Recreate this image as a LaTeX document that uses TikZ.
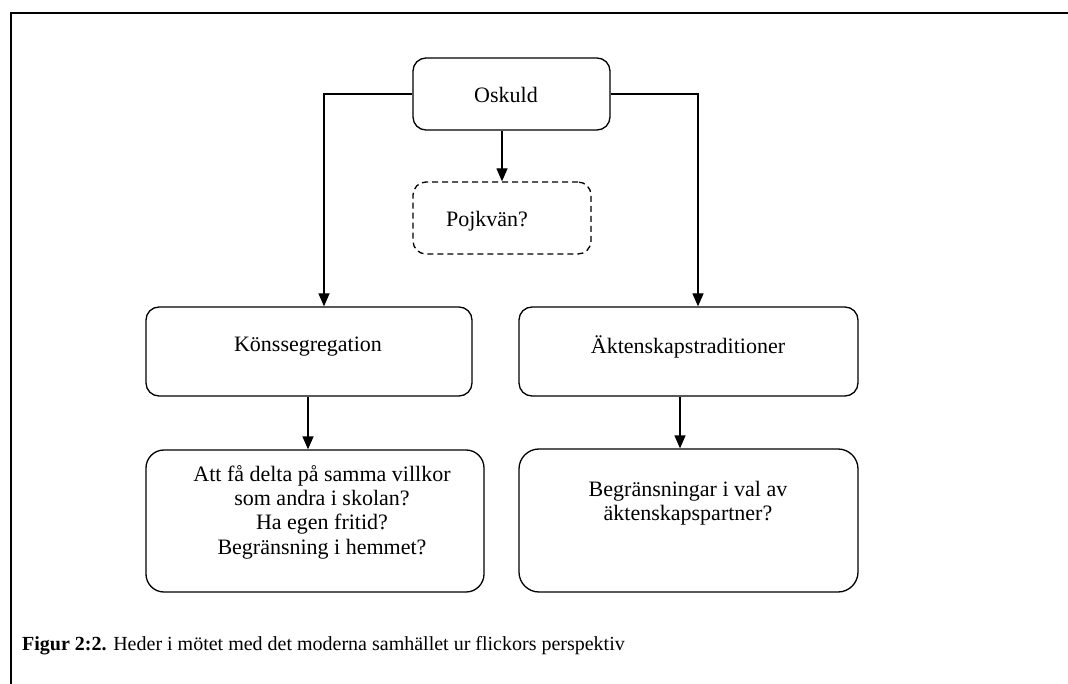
\documentclass[tikz,border=0pt]{standalone}
\usepackage{fontspec}
\setmainfont{Liberation Serif}
\usetikzlibrary{arrows.meta,calc}
\begin{document}
\begin{tikzpicture}[x=1pt,y=-1pt,
  box/.style={draw,line width=1.3pt,rounded corners=13pt,inner sep=0pt},
  dbox/.style={draw,line width=1.3pt,dashed,dash pattern=on 6pt off 4pt,rounded corners=13pt,inner sep=0pt},
  lbl/.style={font=\fontsize{22}{24.3}\selectfont,align=center,inner sep=0pt},
  arr/.style={line width=1.3pt,-{Triangle[width=11pt,length=13pt]}},
  frm/.style={line width=2pt}]
\useasboundingbox (0,0) rectangle (1068,684);
% frame
\coordinate (fbl) at (11,684);
\coordinate (ftl) at (11,13);
\coordinate (ftr) at (1068,13);
\draw[frm] (fbl) -- (ftl) -- (ftr);
% boxes
\node[box,minimum width=197pt,minimum height=72pt] (osk) at (511.5,94) {};
\node[lbl] (oskt) at (506,95) {Oskuld};
\node[dbox,minimum width=178pt,minimum height=72pt] (poj) at (502,218) {};
\node[lbl] (pojt) at (487,221) {Pojkvän?};
\node[box,minimum width=326pt,minimum height=89pt] (kon) at (309,351.5) {};
\node[lbl] (kont) at (308,347) {Könssegregation};
\node[box,minimum width=339pt,minimum height=89pt] (akt) at (688.5,351.5) {};
\node[lbl] (aktt) at (688,347) {Äktenskapstraditioner};
\node[box,rounded corners=18pt,minimum width=338pt,minimum height=142pt] (bl) at (315,521) {};
\node[lbl] (blt) at (322,512) {Att få delta på samma villkor\\som andra i skolan?\\Ha egen fritid?\\Begränsning i hemmet?};
\node[box,rounded corners=20pt,minimum width=339pt,minimum height=143pt] (br) at (688.5,520.5) {};
\node[lbl] (brt) at (688,503) {Begränsningar i val av\\äktenskapspartner?};
% connectors
\coordinate (lc) at (324,94);
\coordinate (rc) at (698,94);
\draw[arr] (osk.west) -- (lc) -- (lc |- kon.north);
\draw[arr] (osk.east) -- (rc) -- (rc |- akt.north);
\draw[arr] (poj.north |- osk.south) -- (poj.north);
\coordinate (ka) at (308,396);
\draw[arr] (ka |- kon.south) -- (ka |- bl.north);
\coordinate (aa) at (680,396);
\draw[arr] (aa |- akt.south) -- (aa |- br.north);
% caption
\node[anchor=base west,inner sep=0pt,font=\fontsize{20}{24}\selectfont] (cap) at (22,650) {\textbf{Figur 2:2.} Heder i mötet med det moderna samhället ur flickors perspektiv};
\end{tikzpicture}
\end{document}
